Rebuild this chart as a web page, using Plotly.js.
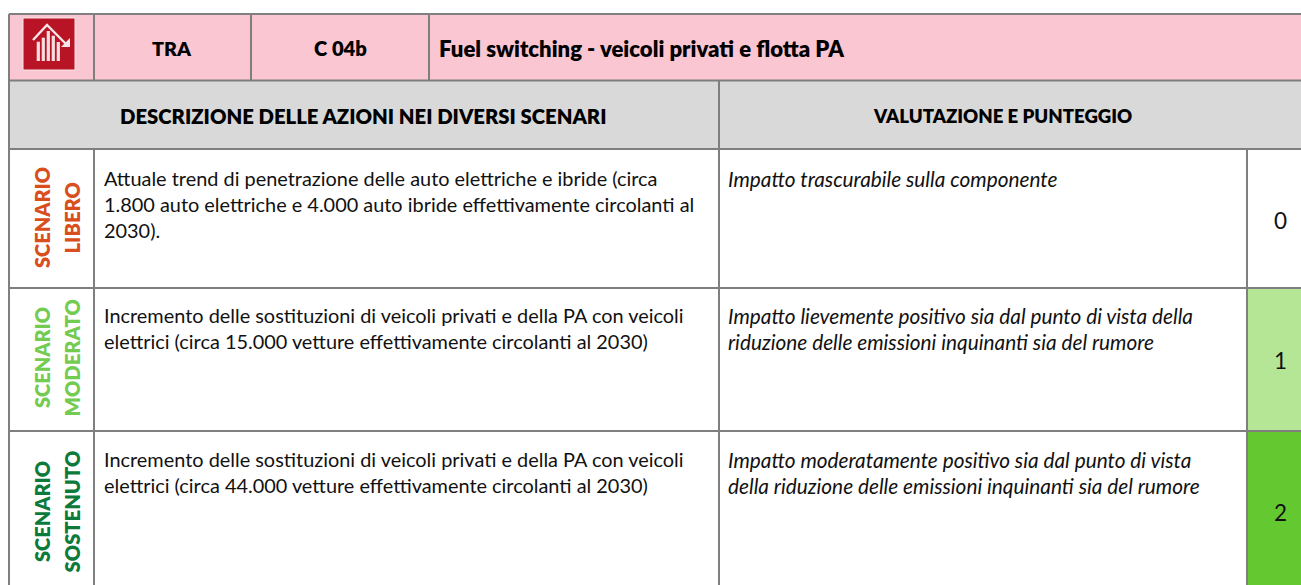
<!DOCTYPE html>
<html><head><meta charset="utf-8">
<script src="https://cdn.plot.ly/plotly-3.0.1.min.js"></script>
<style>html,body{margin:0;padding:0;background:#fff}#c{width:1301px;height:585px}</style>
</head><body><div id="c"></div>
<script>
// ---- content ----
const headerTexts = ["TRA", "C 04b", "Fuel switching - veicoli privati e flotta PA"];
const sectionTexts = ["DESCRIZIONE DELLE AZIONI NEI DIVERSI SCENARI", "VALUTAZIONE E PUNTEGGIO"];
const scenarioFirst = ["SCENARIO", "SCENARIO", "SCENARIO"];
const scenarioSecond = ["LIBERO", "MODERATO", "SOSTENUTO"];
const actionLines = [
 ["Attuale trend di penetrazione delle auto elettriche e ibride (circa","1.800 auto elettriche e 4.000 auto ibride effettivamente circolanti al","2030)."],
 ["Incremento delle sostituzioni di veicoli privati e della PA con veicoli","elettrici (circa 15.000 vetture effettivamente circolanti al 2030)"],
 ["Incremento delle sostituzioni di veicoli privati e della PA con veicoli","elettrici (circa 44.000 vetture effettivamente circolanti al 2030)"]
];
const evaluationLines = [
 ["Impatto trascurabile sulla componente"],
 ["Impatto lievemente positivo sia dal punto di vista della","riduzione delle emissioni inquinanti sia del rumore"],
 ["Impatto moderatamente positivo sia dal punto di vista","della riduzione delle emissioni inquinanti sia del rumore"]
];
const scores = ["0","1","2"];

// ---- layout & style ----
const W=1301,H=585;
const X={l:9,a:94,b:251,c:429,d:719,e:1247,r:1301};
const Y={t:14,h:80.5,s:149,r:[149,288,431,585]};
const pink="#F9C6D2",grey="#D9D9D9",line="#7F7F7F";
const scoreFill=["#FFFFFF","#B5E695","#64C931"];
const scenarioColor=["#D84E1C","#74CB52","#0B7A3A"];
const fontName="Lato, Carlito, Calibri, sans-serif";
const bodySize=19.9, italicSize=20.8;
const lineY=[[178,204,230],[315,341],[459,485]];

const shapes=[];
const rect=(x0,y0,x1,y1,fill)=>shapes.push({type:"rect",xref:"x",yref:"y",x0,y0,x1,y1,fillcolor:fill,line:{width:0},layer:"below"});
const seg=(x0,y0,x1,y1)=>shapes.push({type:"line",xref:"x",yref:"y",x0,y0,x1,y1,line:{color:line,width:2}});
rect(X.l,Y.t,X.r,Y.h,pink);
rect(X.l,Y.h,X.r,Y.s,grey);
scores.forEach((s,i)=>rect(X.e,Y.r[i],X.r,Y.r[i+1],scoreFill[i]));
[Y.t,Y.h,Y.s,Y.r[1],Y.r[2]].forEach(y=>seg(X.l,y,X.r,y));
seg(X.l,Y.t,X.l,H);
seg(X.a,Y.t,X.a,Y.h); seg(X.b,Y.t,X.b,Y.h); seg(X.c,Y.t,X.c,Y.h);
seg(X.a,Y.s,X.a,H); seg(X.d,Y.h,X.d,H); seg(X.e,Y.s,X.e,H);

// icon
const path=(d,fill,stroke,w)=>shapes.push({type:"path",xref:"x",yref:"y",path:d,fillcolor:fill||"rgba(0,0,0,0)",line:{color:stroke||"rgba(0,0,0,0)",width:w||0}});
path("M23,18 L75,18 L75,70 L23,70 Z","#B91426","#F4E4E6",1);
path("M33,40 L47,25 L66,44","rgba(0,0,0,0)","#F6E6E8",2.4);
path("M70,38 L70,47 L61,47 Z","#F6E6E8");
[[36.7,41.7],[41.7,37.7],[46.7,31],[51.7,35.7],[56.7,42]].forEach(b=>
  path(`M${b[0]},${b[1]} L${b[0]+3.2},${b[1]} L${b[0]+3.2},61 L${b[0]},61 Z`,"#F6DDE0"));

const ann=[];
const txt=(text,x,y,size,color,o={},weight)=>ann.push(Object.assign({text,x,y,xref:"x",yref:"y",showarrow:false,xanchor:"center",yanchor:"middle",
  font:{family:fontName,size,color,weight:weight||400}},o));
const HV=800;
txt(headerTexts[0],172,48,19.7,"#000",{},HV);
txt(headerTexts[1],340,48,20.2,"#000",{},HV);
txt(headerTexts[2],437,48,22.1,"#000",{xanchor:"left"},HV);
txt(sectionTexts[0],363,116,20.3,"#000",{},HV);
txt(sectionTexts[1],1002,116,18.6,"#000",{},HV);
const scenY=[218,358,512];
scores.forEach((s,i)=>{
  txt(scenarioFirst[i],42,scenY[i],20,scenarioColor[i],{textangle:-90},HV);
  txt(scenarioSecond[i],71.5,scenY[i],20.2,scenarioColor[i],{textangle:-90},HV);
  actionLines[i].forEach((l,j)=>txt(l,102,lineY[i][j],bodySize,"#111",{xanchor:"left"}));
  evaluationLines[i].forEach((l,j)=>txt(`<i>${l}</i>`,726,lineY[i][j],italicSize,"#111",{xanchor:"left"}));
});
const scoreY=[220,360,512];
scores.forEach((s,i)=>txt(s,1280,scoreY[i],22.5,"#111"));

Plotly.newPlot("c",[{x:[0,W],y:[0,H],mode:"markers",marker:{opacity:0},hoverinfo:"skip",showlegend:false}],{
  width:W,height:H,margin:{l:0,r:0,t:0,b:0},paper_bgcolor:"#fff",plot_bgcolor:"#fff",
  xaxis:{range:[0,W],visible:false,fixedrange:true},
  yaxis:{range:[H,0],visible:false,fixedrange:true},
  shapes,annotations:ann,showlegend:false
},{displayModeBar:false,staticPlot:true});
</script></body></html>
